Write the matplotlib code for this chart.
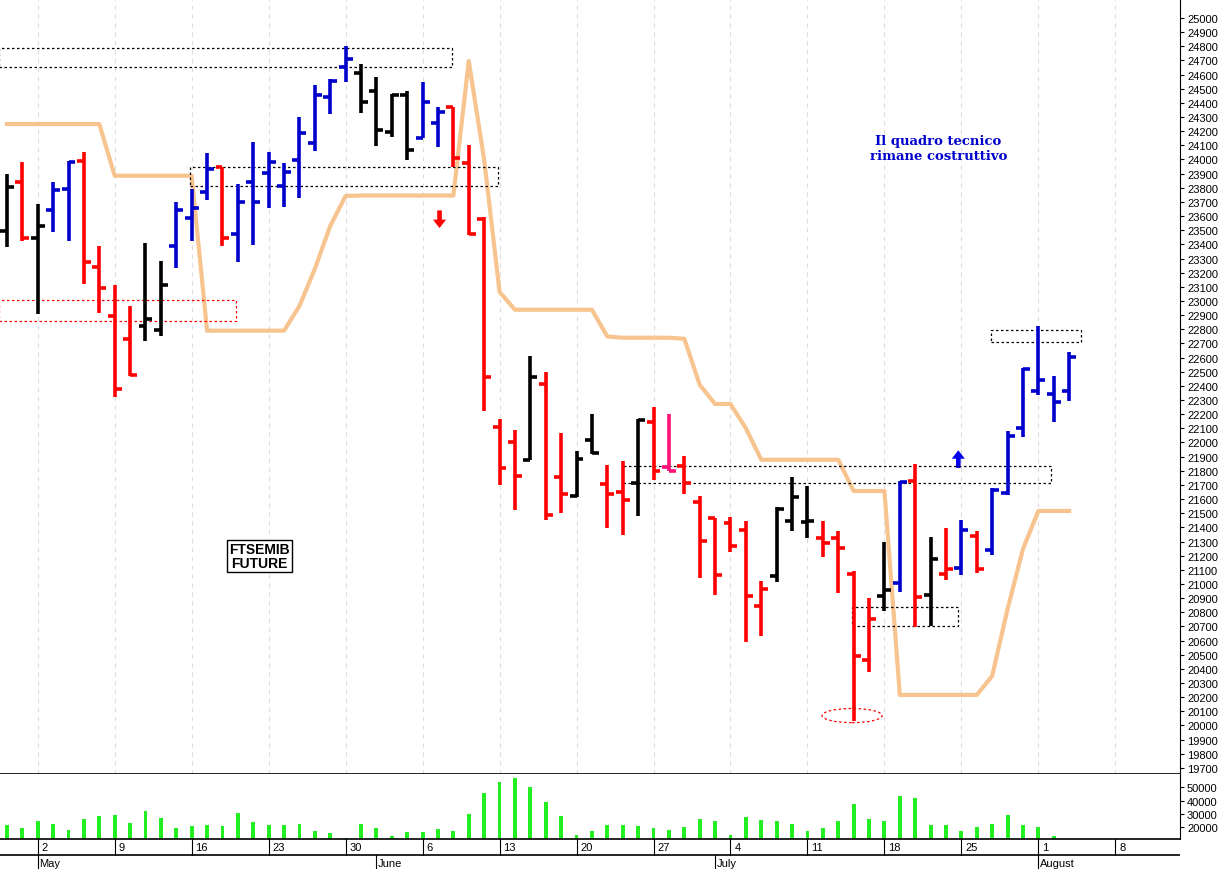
import matplotlib.pyplot as plt
from matplotlib.patches import Rectangle, Ellipse, FancyArrow

plt.rcParams['font.family'] = ['Liberation Sans Narrow', 'Liberation Sans', 'DejaVu Sans']

# OHLC per trading day, index 0 = 28 Apr 2022
opens = [23495, 23840, 23445, 23643, 23790, 23990, 23240, 22894, 22732, 22823,
         22795, 23389, 23587, 23770, 23947, 23474, 23841, 23905, 23813, 23997,
         24117, 24442, 24654, 24611, 24484, 24194, 24456, 24152, 24258, 24371,
         23978, 23582, 22110, 22004, 21873, 22416, 21757, 21620, 22018, 21707,
         21651, 21710, 22148, 21828, 21834, 21580, 21469, 21431, 21382, 20847,
         21059, 21443, 21440, 21325, 21325, 21071, 20463, 20917, 21005, 21726,
         20922, 21071, 21111, 21337, 21240, 21641, 22102, 22366, 22343, 22366]
highs = [23898, 23982, 23686, 23840, 23990, 24053, 23389, 23113, 22965, 23410,
         23283, 23700, 23791, 24046, 23947, 23827, 24124, 24053, 23975, 24300,
         24527, 24569, 24802, 24675, 24583, 24460, 24484, 24548, 24371, 24371,
         24100, 23594, 22169, 22085, 22611, 22497, 22068, 21941, 22199, 21841,
         21866, 22163, 22252, 22199, 21905, 21622, 21469, 21476, 21442, 21024,
         21542, 21754, 21695, 21443, 21372, 21094, 20899, 21295, 21726, 21848,
         21330, 21394, 21452, 21377, 21678, 22079, 22527, 22821, 22468, 22642]
lows = [23382, 23424, 22908, 23488, 23424, 23120, 22915, 22322, 22470, 22717,
        22753, 23233, 23424, 23714, 23389, 23276, 23396, 23657, 23664, 23728,
        24060, 24322, 24548, 24329, 24095, 24159, 23997, 24152, 24088, 23947,
        23469, 22219, 21702, 21525, 21873, 21450, 21500, 21613, 21916, 21399,
        21343, 21482, 21732, 21799, 21639, 21045, 20924, 21226, 20590, 20635,
        21012, 21372, 21323, 21189, 20937, 20030, 20380, 20811, 20946, 20694,
        20706, 21030, 21063, 21078, 21205, 21631, 22037, 22336, 22147, 22296]
closes = [23806, 23445, 23530, 23784, 23982, 23276, 23092, 22378, 22480, 22873,
          23113, 23643, 23657, 23933, 23445, 23700, 23700, 23983, 23912, 24187,
          24456, 24555, 24710, 24406, 24208, 24456, 24067, 24406, 24336, 24011,
          23473, 22464, 21820, 21760, 22464, 21488, 21639, 21883, 21929, 21633,
          21596, 22160, 21799, 21799, 21714, 21304, 21064, 21265, 20912, 20965,
          21530, 21613, 21445, 21290, 21252, 20489, 20753, 20960, 21719, 20910,
          21177, 21106, 21382, 21106, 21666, 22048, 22520, 22442, 22284, 22602]
bar_colors = "krkbbrrrrkkbbbrbbbbbbbbkkkkbbrrrrrkrrkkrrkrprrrrrrkkkrrrrkbrkrbrbbbbbb"

volume = [21800, 19200, 24400, 22600, 18000, 26400, 28400, 29500, 23300, 32500,
          27200, 19200, 20800, 21300, 20800, 31000, 23800, 21800, 21300, 22600,
          16900, 15600, 11800, 22600, 19200, 13100, 16200, 16200, 18200, 17200,
          30200, 45600, 53800, 57100, 50200, 39200, 28400, 14400, 16900, 21300,
          21800, 20800, 19200, 18000, 20000, 26400, 24400, 14400, 27700, 25600,
          24400, 22600, 16900, 19200, 24400, 37200, 26400, 24400, 43600, 41800,
          21800, 21300, 17400, 20000, 22600, 29000, 21800, 20000, 13600, 11000]

stop_line = [24250, 24250, 24250, 24250, 24250, 24250, 24250, 23885, 23885, 23885,
             23885, 23885, 23885, 22790, 22790, 22790, 22790, 22790, 22790, 22965,
             23226, 23530, 23742, 23745, 23745, 23745, 23745, 23745, 23745, 23745,
             24696, 23998, 23064, 22938, 22938, 22938, 22938, 22938, 22938, 22749,
             22740, 22740, 22740, 22740, 22733, 22408, 22272, 22272, 22100, 21878,
             21878, 21878, 21878, 21878, 21878, 21657, 21657, 21657, 20216, 20216,
             20216, 20216, 20216, 20216, 20350, 20823, 21247, 21516, 21516, 21516]

week_idx = [2, 7, 12, 17, 22, 27, 32, 37, 42, 47, 52, 57, 62, 67, 72]
week_labels = ["2", "9", "16", "23", "30", "6", "13", "20", "27", "4", "11", "18", "25", "1", "8"]
month_idx = [2, 24, 46, 67]
month_labels = ["May", "June", "July", "August"]

# boxes: (x0, x1, p_low, p_high, colour)
boxes = [(-0.5, 28.9, 24654, 24788, 'black'),
         (11.9, 31.9, 23813, 23947, 'black'),
         (40.0, 67.8, 21714, 21834, 'black'),
         (54.9, 61.8, 20703, 20838, 'black'),
         (63.9, 69.8, 22710, 22795, 'black'),
         (-0.5, 14.9, 22859, 23007, 'red')]

cmap = {'k': 'black', 'r': '#ff0000', 'b': '#0000cc', 'p': '#ff1177'}
W, H = 1232, 870
fig = plt.figure(figsize=(W / 100, H / 100), dpi=100)
xlim = (-0.45, 76.2)
right = 1180 / W

ax = fig.add_axes([0, 95 / H, right, 775 / H])
ax.set_xlim(*xlim)
ax.set_ylim(19657, 25134)
for x in week_idx:
    ax.axvline(x, color='#dddddd', lw=0.8, ls=(0, (4, 4)), zorder=0)
ax.plot(range(len(stop_line)), stop_line, color='#f7c48f', lw=3, zorder=1)
t = 0.45
for i in range(len(opens)):
    c = cmap[bar_colors[i]]
    ax.plot([i, i], [lows[i], highs[i]], color=c, lw=2.6, solid_capstyle='butt', zorder=3)
    ax.plot([i - t, i], [opens[i], opens[i]], color=c, lw=2.6, solid_capstyle='butt', zorder=3)
    ax.plot([i, i + t], [closes[i], closes[i]], color=c, lw=2.6, solid_capstyle='butt', zorder=3)
for x0, x1, lo, hi, c in boxes:
    ax.add_patch(Rectangle((x0, lo), x1 - x0, hi - lo, fill=False, ec=c, lw=0.9,
                           ls=(0, (2, 2)), zorder=2))
ax.add_patch(Ellipse((54.9, 20070), 3.9, 100, fill=False, ec='red', lw=0.9, ls=(0, (2, 2))))
ax.add_patch(FancyArrow(28.1, 23640, 0, -125, width=0.3, head_width=0.85, head_length=60,
                        color='#ff0000', length_includes_head=True, lw=0))
ax.add_patch(FancyArrow(61.8, 21820, 0, 125, width=0.3, head_width=0.85, head_length=60,
                        color='#0000ee', length_includes_head=True, lw=0))
ax.text(60.5, 24080, "Il quadro tecnico\nrimane costruttivo", color='#0000cc', fontsize=9.5,
        fontweight='bold', ha='center', va='center', family=['DejaVu Serif'], linespacing=1.2)
ax.text(16.4, 21200, "FTSEMIB\nFUTURE", fontsize=10, fontweight='bold', ha='center', va='center',
        family=['Liberation Sans'], linespacing=1.0,
        bbox=dict(boxstyle='square,pad=0.15', fc='white', ec='black', lw=1))
ax.yaxis.tick_right()
ax.set_yticks(range(19700, 25001, 100))
ax.tick_params(axis='y', labelsize=8, length=3, pad=2)
ax.set_xticks([])
for s in ['top', 'left']:
    ax.spines[s].set_visible(False)
ax.spines['bottom'].set_linewidth(1.2)

vax = fig.add_axes([0, 30 / H, right, 65 / H])
vax.set_xlim(*xlim)
vax.set_ylim(11000, 60200)
vax.bar(range(len(volume)), volume, width=0.25, color='#22ee22', bottom=0)
vax.yaxis.tick_right()
vax.set_yticks([20000, 30000, 40000, 50000])
vax.tick_params(axis='y', labelsize=8, length=3, pad=2)
vax.set_xticks([])
for s in ['top', 'left']:
    vax.spines[s].set_visible(False)
vax.spines['bottom'].set_linewidth(1.2)

dax = fig.add_axes([0, 0, right, 30 / H])
dax.set_xlim(*xlim)
dax.set_ylim(0, 30)
dax.axis('off')
dax.axhline(14, color='black', lw=1.2)
for x, lab in zip(week_idx, week_labels):
    dax.plot([x, x], [14, 30], color='black', lw=0.8)
    dax.text(x + 0.25, 22, lab, fontsize=8, va='center', ha='left')
for x, lab in zip(month_idx, month_labels):
    dax.plot([x, x], [0, 14], color='black', lw=0.8)
    dax.text(x + 0.1, 6, lab, fontsize=8, va='center', ha='left')

fig.savefig('out.png', dpi=100)
